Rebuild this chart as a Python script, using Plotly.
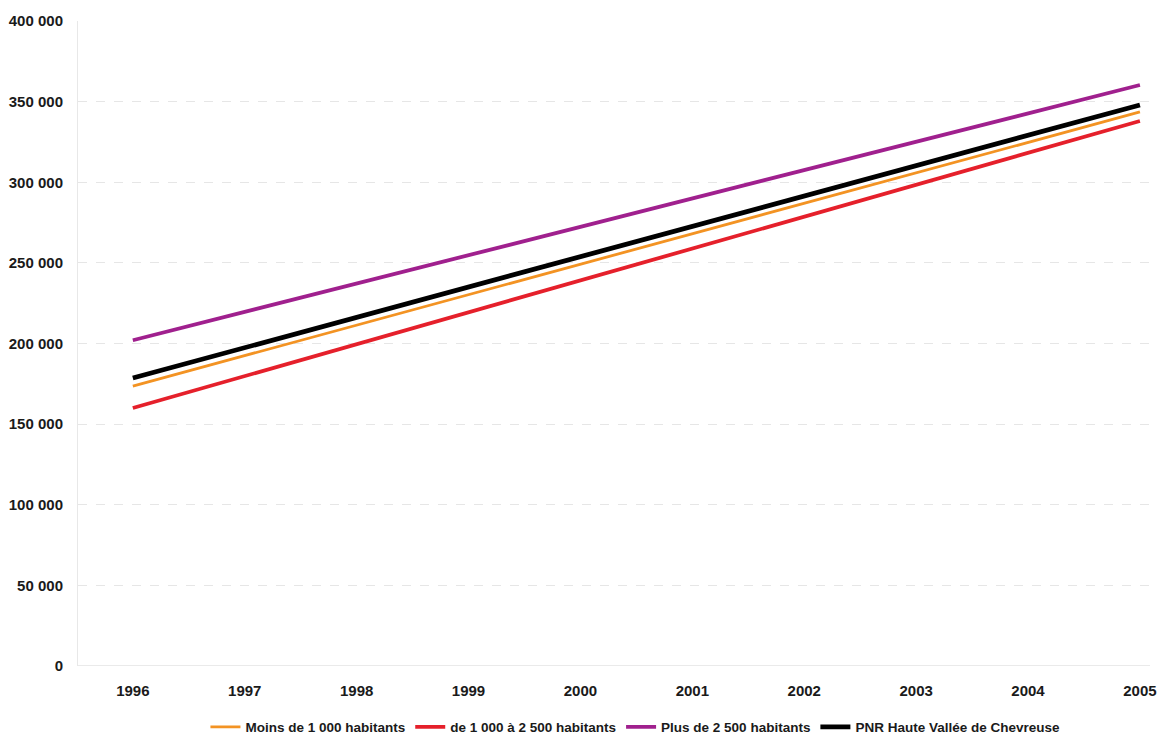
import plotly.graph_objects as go

years = [1996, 1997, 1998, 1999, 2000, 2001, 2002, 2003, 2004, 2005]

moins_1000 = [173600, 192500, 211400, 230300, 249200, 268000, 287000, 305800, 324700, 343600]
de_1000_a_2500 = [160000, 179800, 199500, 219300, 239100, 258900, 278700, 298400, 318200, 338000]
plus_2500 = [202000, 219600, 237100, 254800, 272300, 290000, 307500, 325200, 342700, 360300]
pnr_hvc = [178600, 197400, 216200, 235000, 253800, 272700, 291500, 310300, 329100, 347900]

series_names = [
    "Moins de 1 000 habitants",
    "de 1 000 à 2 500 habitants",
    "Plus de 2 500 habitants",
    "PNR Haute Vallée de Chevreuse",
]

y_tickvals = [0, 50000, 100000, 150000, 200000, 250000, 300000, 350000, 400000]
y_ticktext = ["0", "50 000", "100 000", "150 000", "200 000", "250 000", "300 000", "350 000", "400 000"]

styles = [
    ("#F39323", 2.8),
    ("#E5202B", 3.8),
    ("#A0208E", 3.8),
    ("#000000", 4.8),
]

fig = go.Figure()
for name, values, (color, width) in zip(series_names, [moins_1000, de_1000_a_2500, plus_2500, pnr_hvc], styles):
    fig.add_trace(go.Scatter(
        x=years, y=values, name=name, mode="lines",
        line=dict(color=color, width=width),
    ))

font_family = "Liberation Sans, Arial, sans-serif"

fig.update_layout(
    width=1157, height=734,
    margin=dict(l=78, r=7, t=21, b=68, autoexpand=False),
    paper_bgcolor="white",
    plot_bgcolor="white",
    font=dict(family=font_family, size=15, color="#1a1a1a"),
    showlegend=True,
    legend=dict(
        orientation="h", x=0.52, xanchor="center",
        yref="container", y=0.0095, yanchor="middle",
        font=dict(family=font_family, size=13.5, color="#1a1a1a", weight="bold"),
        itemwidth=30, tracegroupgap=0,
    ),
    xaxis=dict(
        range=[1995.51, 2005.09],
        tickvals=years,
        ticktext=[f"<b>{y}</b>" for y in years],
        showgrid=False,
        zeroline=False,
        showline=False,
        ticks="",
        tickfont=dict(size=15),
        ticklabelstandoff=14,
    ),
    yaxis=dict(
        range=[0, 400000],
        tickvals=y_tickvals,
        ticktext=[f"<b>{t}</b>" for t in y_ticktext],
        showgrid=True,
        gridcolor="#e6e6e6",
        griddash="dash",
        gridwidth=1,
        zeroline=False,
        showline=True,
        linecolor="#e8e8e8",
        linewidth=1,
        ticks="",
        tickfont=dict(size=15),
        ticklabelstandoff=11,
    ),
)

# solid baseline along the category axis
fig.add_shape(type="line", xref="paper", yref="y", x0=0, x1=1, y0=0, y1=0,
              line=dict(color="#e3e3e3", width=1.5), layer="below")

fig.write_html("out.html")
